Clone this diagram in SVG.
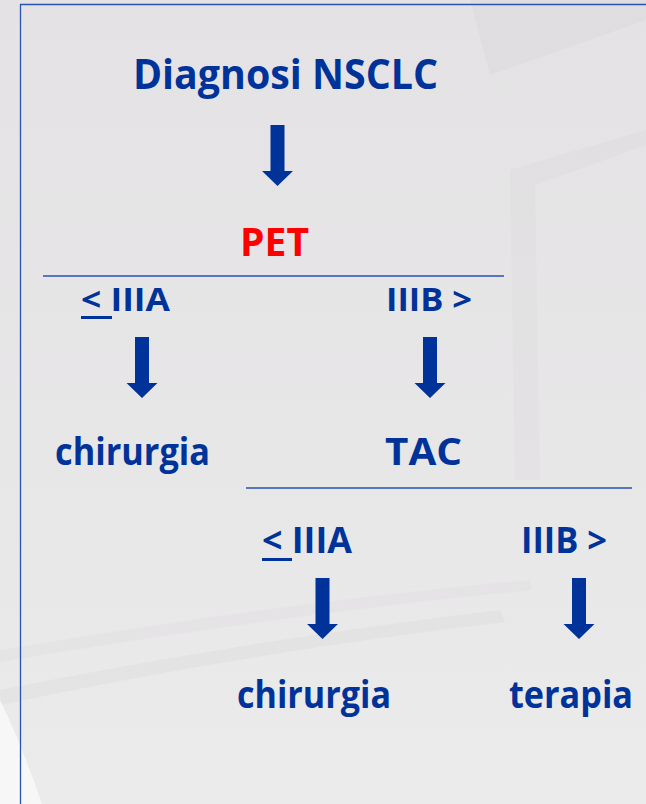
<svg xmlns="http://www.w3.org/2000/svg" width="646" height="804" viewBox="0 0 646 804">
<defs>
<linearGradient id="bg" x1="0" y1="0" x2="0" y2="1">
<stop offset="0" stop-color="#e4e2e4"/>
<stop offset="0.6" stop-color="#e8e7e8"/>
<stop offset="1" stop-color="#ecebec"/>
</linearGradient>
<path id="arrow" d="M-7,0 H7 V46 H15.5 L0,61 L-15.5,46 H-7 Z"/>
<style>
.t{font-family:"Open Sans","Noto Sans","Liberation Sans",sans-serif;font-weight:bold;fill:#003399;text-anchor:start}
.red{fill:#ff0000}
.ar{fill:#003399}
.rule{stroke:#2a52b0;stroke-width:1.3;fill:none}
.ul{fill:#003399}
</style>
</defs>
<rect width="646" height="804" fill="url(#bg)"/>
<g id="background" opacity="0.3">
<path d="M470,0 L646,0 L646,20 L490,75 Z" fill="#d6d4d6"/>
<path d="M510,170 L646,130 L646,145 L535,185 L540,480 L515,480 Z" fill="#d9d7d9"/>
<path d="M0,690 Q250,640 500,610 L505,622 Q250,652 0,705 Z" fill="#d8d6d8"/>
<path d="M0,650 Q300,600 530,580 L532,590 Q300,612 0,662 Z" fill="#dcdadc"/>
</g>
<path d="M0,700 Q22,745 42,804 L0,804 Z" fill="#f7f7f7"/>
<g id="frame">
<path class="rule" d="M20.5,804 V4.5 H646"/>
</g>
<g id="connectors">
<use href="#arrow" x="277.5" y="125" class="ar"/>
<line class="rule" x1="43" y1="276" x2="504" y2="276"/>
<use href="#arrow" x="142" y="337" class="ar"/>
<use href="#arrow" x="430" y="337" class="ar"/>
<line class="rule" x1="246" y1="488" x2="632" y2="488"/>
<use href="#arrow" x="322.5" y="578" class="ar"/>
<use href="#arrow" x="579" y="578" class="ar"/>
</g>
<g id="node-diagnosi"><text class="t" x="133" y="89" font-size="42" textLength="305" lengthAdjust="spacingAndGlyphs">Diagnosi NSCLC</text></g>
<g id="node-pet"><text class="t red" x="240" y="256" font-size="39" textLength="69" lengthAdjust="spacingAndGlyphs">PET</text></g>
<g id="node-le-iiia-1"><text class="t" x="81" y="311" font-size="33" textLength="89" lengthAdjust="spacingAndGlyphs">&lt; IIIA</text><rect class="ul" x="81" y="316" width="31" height="3"/></g>
<g id="node-iiib-1"><text class="t" x="386" y="311" font-size="33" textLength="86" lengthAdjust="spacingAndGlyphs">IIIB &gt;</text></g>
<g id="node-chirurgia-1"><text class="t" x="55" y="465" font-size="37" textLength="155" lengthAdjust="spacingAndGlyphs">chirurgia</text></g>
<g id="node-tac"><text class="t" x="385" y="465" font-size="38" textLength="77" lengthAdjust="spacingAndGlyphs">TAC</text></g>
<g id="node-le-iiia-2"><text class="t" x="262" y="553" font-size="36" textLength="90" lengthAdjust="spacingAndGlyphs">&lt; IIIA</text><rect class="ul" x="262" y="558" width="30" height="3"/></g>
<g id="node-iiib-2"><text class="t" x="521" y="553" font-size="36" textLength="86" lengthAdjust="spacingAndGlyphs">IIIB &gt;</text></g>
<g id="node-chirurgia-2"><text class="t" x="237" y="708" font-size="37" textLength="154" lengthAdjust="spacingAndGlyphs">chirurgia</text></g>
<g id="node-terapia"><text class="t" x="509" y="708" font-size="37" textLength="124" lengthAdjust="spacingAndGlyphs">terapia</text></g>
</svg>
